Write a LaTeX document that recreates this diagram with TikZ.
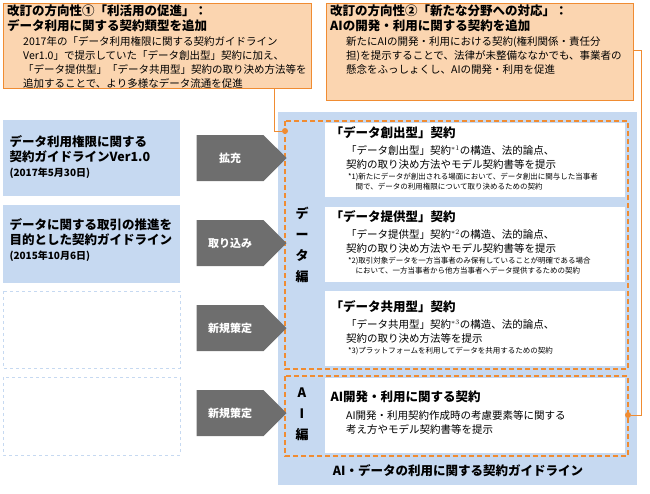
\documentclass[tikz,border=0pt]{standalone}
\usepackage{fontspec}
\setmainfont{Noto Sans CJK JP}
\usetikzlibrary{shapes.arrows}
\definecolor{orgfill}{HTML}{FBD5B0}
\definecolor{orgline}{HTML}{F08C32}
\definecolor{guideblue}{HTML}{C6D9F1}
\definecolor{arrgray}{HTML}{6E6E6E}
\tikzset{
  revbox/.style={draw=orgline, thick, fill=orgfill},
  srcbox/.style={fill=guideblue},
  emptybox/.style={draw=guideblue, thick, dashed},
  cardbox/.style={fill=white},
  groupbox/.style={draw=orgline, line width=1.6pt, dash pattern=on 5pt off 3pt},
  stepar/.style={single arrow, fill=arrgray, minimum height=90pt, minimum width=46pt,
    single arrow head extend=0pt, inner sep=0pt, text=white, font=\bfseries\fontsize{11}{13}\selectfont},
  head/.style={anchor=north west, align=left, font=\bfseries\fontsize{12.5}{15}\selectfont},
  body/.style={anchor=north west, align=left, font=\fontsize{10.5}{14}\selectfont},
  note/.style={anchor=north west, align=left, font=\fontsize{7.5}{9.5}\selectfont},
  link/.style={orgline, semithick},
  dot/.style={circle, fill=orgline, inner sep=0pt, minimum size=6pt}
}
\begin{document}
\begin{tikzpicture}[x=1pt,y=-1pt]
\useasboundingbox (0,0) rectangle (650,493);
% revision boxes
\draw[revbox] (3,3) rectangle (311,88);
\node[head, inner sep=1pt] (rev1) at (6,4) {改訂の方向性①「利活用の促進」：\\データ利用に関する契約類型を追加};
\node[body, inner sep=1pt] (rev1t) at (22,35) {2017年の「データ利用権限に関する契約ガイドライン\\Ver1.0」で提示していた「データ創出型」契約に加え、\\「データ提供型」「データ共用型」契約の取り決め方法等を\\追加することで、より多様なデータ流通を促進};
\draw[revbox] (326,3) rectangle (633,100);
\node[head, inner sep=1pt] (rev2) at (329,4) {改訂の方向性②「新たな分野への対応」：\\AIの開発・利用に関する契約を追加};
\node[body, inner sep=1pt] (rev2t) at (345,35) {新たにAIの開発・利用における契約(権利関係・責任分\\担)を提示することで、法律が未整備ななかでも、事業者の\\懸念をふっしょくし、AIの開発・利用を促進};
% guideline background
\fill[guideblue] (278,112) rectangle (637,485);
\node[font=\bfseries\fontsize{12.5}{15}\selectfont] (guide) at (458,471) {AI・データの利用に関する契約ガイドライン};
% data cards
\fill[cardbox] (325,123) rectangle (625,197);
\node[head] (c1) at (327,123) {「データ創出型」契約};
\node[body, inner sep=1pt] (c1t) at (345,144) {「データ創出型」契約$^{*1}$の構造、法的論点、\\契約の取り決め方法やモデル契約書等を提示};
\node[note, inner sep=1pt] (c1n) at (347,172) {*1)新たにデータが創出される場面において、データ創出に関与した当事者\\\quad 間で、データの利用権限について取り決めるための契約};
\fill[cardbox] (325,207) rectangle (625,282);
\node[head] (c2) at (327,207) {「データ提供型」契約};
\node[body, inner sep=1pt] (c2t) at (345,228) {「データ提供型」契約$^{*2}$の構造、法的論点、\\契約の取り決め方法やモデル契約書等を提示};
\node[note, inner sep=1pt] (c2n) at (347,256) {*2)取引対象データを一方当事者のみ保有していることが明確である場合\\\quad において、一方当事者から他方当事者へデータ提供するための契約};
\fill[cardbox] (325,291) rectangle (625,366);
\node[head] (c3) at (327,297) {「データ共用型」契約};
\node[body, inner sep=1pt] (c3t) at (345,318) {「データ共用型」契約$^{*3}$の構造、法的論点、\\契約の取り決め方法等を提示};
\node[note, inner sep=1pt] (c3n) at (347,346) {*3)プラットフォームを利用してデータを共用するための契約};
\fill[cardbox] (325,378) rectangle (625,453);
\node[head] (c4) at (327,387) {AI開発・利用に関する契約};
\node[body, inner sep=1pt] (c4t) at (345,409) {AI開発・利用契約作成時の考慮要素等に関する\\考え方やモデル契約書等を提示};
% groups
\draw[groupbox] (285,121) rectangle (628,369);
\draw[groupbox] (285,376) rectangle (628,456);
\node[font=\bfseries\fontsize{13}{21}\selectfont, align=center] (dlab) at (302,245) {デ\\ー\\タ\\編};
\node[font=\bfseries\fontsize{13}{21}\selectfont, align=center] (alab) at (302,414) {A\\I\\編};
% source guidelines
\fill[srcbox] (3,120) rectangle (180,196);
\node[head] (s1) at (6,132) {データ利用権限に関する\\契約ガイドラインVer1.0\\{\fontsize{10}{12}\selectfont (2017年5月30日)}};
\fill[srcbox] (3,205) rectangle (180,283);
\node[head] (s2) at (6,215) {データに関する取引の推進を\\目的とした契約ガイドライン\\{\fontsize{10}{12}\selectfont (2015年10月6日)}};
\draw[emptybox] (3,291) rectangle (180,368);
\draw[emptybox] (3,377) rectangle (180,455);
% arrows
\node[stepar] (a1) at (230,158) {拡充};
\node[stepar] (a2) at (230,243) {取り込み};
\node[stepar] (a3) at (230,328) {新規策定};
\node[stepar] (a4) at (230,413) {新規策定};
% links
\node[dot] (d1) at (285,131) {};
\node[dot] (d2) at (628,415) {};
\coordinate (r1) at (274,88);
\coordinate (r2) at (633,50);
\draw[link] (r1) |- (d1);
\draw[link] (r2) -- (641,50) |- (d2);
\end{tikzpicture}
\end{document}
